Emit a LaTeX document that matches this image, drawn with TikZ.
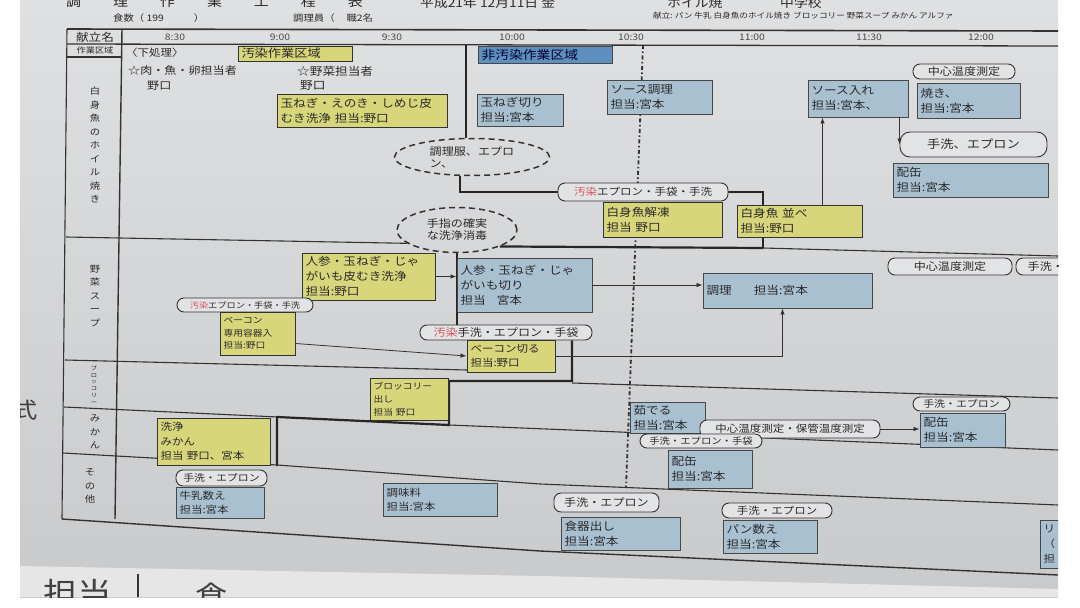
\documentclass[tikz,border=0pt]{standalone}
\usepackage{fontspec}
\setmainfont{Noto Sans CJK JP}[FakeStretch=1.15]
\usetikzlibrary{shapes.geometric,arrows.meta,calc}
\definecolor{paperA}{HTML}{DFE0E2}
\definecolor{paperB}{HTML}{C9CACC}
\definecolor{paperL}{HTML}{E6E6E6}
\definecolor{pillfill}{HTML}{E2E3E5}
\definecolor{yfill}{HTML}{D7D67A}
\definecolor{bfill}{HTML}{A9C0D1}
\definecolor{bdark}{HTML}{5E90BF}
\definecolor{ink}{HTML}{2A2A2A}
\definecolor{lineink}{HTML}{333333}
\definecolor{redink}{HTML}{D9545E}
\pgfdeclarelayer{paper}
\pgfdeclarelayer{bg}
\pgfsetlayers{paper,bg,main}
\newcommand\MyBox[7]{%
  \pgfmathsetmacro\bxw{#5-#3}%
  \pgfmathsetmacro\bxh{#6-#4}%
  \pgfmathsetmacro\bxt{#5-#3-7}%
  \node[#2,minimum width=\bxw pt,minimum height=\bxh pt,text width=\bxt pt] (#1) at ({(#3+#5)/2},{(#4+#6)/2}) {#7};}
\newcommand\MyPill[7]{%
  \pgfmathsetmacro\bxw{#5-#3}%
  \pgfmathsetmacro\bxh{#6-#4}%
  \node[#2,minimum width=\bxw pt,minimum height=\bxh pt] (#1) at ({(#3+#5)/2},{(#4+#6)/2}) {#7};}
\tikzset{
  txt/.style={text=ink,inner sep=0pt,font=\fontsize{11}{14}\selectfont},
  ybox/.style={draw=lineink,line width=0.9pt,fill=yfill,text=ink,align=left,inner xsep=3.5pt,inner ysep=0.5pt,font=\fontsize{11}{15}\selectfont},
  bbox/.style={draw=lineink!90,line width=0.9pt,fill=bfill,text=ink,align=left,inner xsep=3.5pt,inner ysep=0.5pt,font=\fontsize{11}{15}\selectfont},
  pill/.style={draw=lineink,line width=0.9pt,fill=pillfill,rounded corners=7pt,text=ink,inner xsep=2pt,inner ysep=0pt,font=\fontsize{10}{11}\selectfont},
  dell/.style={ellipse,draw=lineink,dash pattern=on 6pt off 4pt,line width=1.5pt,inner sep=0pt,align=left,text=ink,font=\fontsize{10.5}{12}\selectfont},
  vlab/.style={text=ink,align=center,inner sep=0pt,font=\fontsize{9}{13.5}\selectfont},
  tlab/.style={text=ink!85,inner sep=0pt,font=\fontsize{9}{10}\selectfont},
  grid/.style={draw=lineink,line width=1.1pt},
  bound/.style={draw=black!85,line width=2.2pt},
  arr/.style={draw=lineink,line width=0.8pt,-{Latex[length=6pt,width=4.5pt]}},
  ddash/.style={draw=black!80,line width=1.8pt,dash pattern=on 4pt off 2.5pt on 1.5pt off 2.5pt},
}
\begin{document}
\begin{tikzpicture}[x=1pt,y=-1pt]
\useasboundingbox (0,0) rectangle (1080,608);
\begin{pgfonlayer}{paper}
  \fill[white] (0,0) rectangle (1080,608);
  \shade[top color=paperA,bottom color=paperB] (20,0) rectangle (1058,597);
  \fill[paperL] (20,566) -- (540,576) -- (1058,589) -- (1058,597) -- (20,597) -- cycle;
\end{pgfonlayer}
\begin{scope}
\clip (20,0) rectangle (1058,597);
% ---------- heading rows ----------
\node[txt,font=\fontsize{13}{13}\selectfont,anchor=west] (title) at (66,2) {調\hspace{32pt}理\hspace{32pt}作\hspace{32pt}業\hspace{32pt}工\hspace{32pt}程\hspace{32pt}表};
\node[txt,font=\fontsize{12}{12}\selectfont,anchor=west] (date) at (420,3) {平成21年\ 12月11日\ 金};
\node[txt,font=\fontsize{12}{12}\selectfont,anchor=west] (menu) at (667,3) {ホイル焼};
\node[txt,font=\fontsize{12}{12}\selectfont,anchor=west] (school) at (780,3) {中学校};
\node[txt,font=\fontsize{9}{10}\selectfont,anchor=west] (shoku) at (113,18) {食数（\ 199\hspace{30pt}）};
\node[txt,font=\fontsize{9}{10}\selectfont,anchor=west] (chori) at (293,18) {調理員（\hspace{12pt}職2名};
\node[txt,font=\fontsize{7.5}{9}\selectfont,anchor=west] (kondate) at (653,16) {献立:\ パン\ 牛乳\ 白身魚のホイル焼き\ ブロッコリー\ 野菜スープ\ みかん\ アルファ};
% ---------- table header ----------
\node[txt,font=\fontsize{11}{12}\selectfont] (hdr) at (95,37) {献立名};
\node[tlab] (t830) at (175,37) {8:30};
\node[tlab] (t900) at (280,37) {9:00};
\node[tlab] (t930) at (392,37) {9:30};
\node[tlab] (t1000) at (512,37) {10:00};
\node[tlab] (t1030) at (631,37) {10:30};
\node[tlab] (t1100) at (752,37) {11:00};
\node[tlab] (t1130) at (869,37) {11:30};
\node[tlab] (t1200) at (981,37) {12:00};
\node[txt,font=\fontsize{8}{9}\selectfont] (area) at (95,50.5) {作業区域};
% ---------- row labels ----------
\node[vlab] (lab1) at (95,145) {白\\身\\魚\\の\\ホ\\イ\\ル\\焼\\き};
\node[vlab] (lab2) at (95,296) {野\\菜\\ス\\ー\\プ};
\node[vlab,font=\fontsize{5.5}{6.8}\selectfont] (lab3) at (94,385) {ブ\\ロ\\ッ\\コ\\リ\\ー};
\node[vlab] (lab4) at (95,432) {み\\か\\ん};
\node[vlab] (lab5) at (90,486) {そ\\の\\他};
% ---------- free texts ----------
\node[txt,anchor=west,font=\fontsize{10}{12}\selectfont] (shita) at (126,53) {〈下処理〉};
\node[txt,anchor=west,font=\fontsize{10.5}{12}\selectfont] (meat) at (128,71) {☆肉・魚・卵担当者};
\node[txt,anchor=west,font=\fontsize{10.5}{12}\selectfont] (meatN) at (147,86) {野口};
\node[txt,anchor=west,font=\fontsize{11}{12}\selectfont] (veg) at (297,71) {☆野菜担当者};
\node[txt,anchor=west,font=\fontsize{11}{12}\selectfont] (vegN) at (300,86) {野口};
% ---------- zone labels ----------
\MyBox{zoneY}{ybox,font=\fontsize{11.5}{12}\selectfont,inner ysep=0pt}{238}{46}{352}{61}{汚染作業区域}
\MyBox{zoneB}{bbox,fill=bdark,text=black!80!blue,font=\fontsize{12}{12}\selectfont,inner ysep=0pt}{478}{46}{612}{63}{非汚染作業区域}
% ---------- dashed ellipses ----------
\node[dell,minimum width=155pt,minimum height=37pt] (el1) at (472,157) {調理服、エプロ\\ン、};
\node[dell,minimum width=120pt,minimum height=45pt] (el2) at (457,230) {手指の確実\\な洗浄消毒};
% ---------- boxes row 1 ----------
\MyBox{tama1}{ybox}{277}{94}{447}{127}{玉ねぎ・えのき・しめじ皮\\むき洗浄\ 担当:野口}
\MyBox{tama2}{bbox}{477}{94}{563}{126}{玉ねぎ切り\\担当:宮本}
\MyBox{sauce}{bbox}{607}{80}{712}{114}{ソース調理\\担当:宮本}
\MyBox{sauceIn}{bbox}{808}{80}{908}{117}{ソース入れ\\担当:宮本、}
\MyPill{tempA}{pill,font=\fontsize{10.5}{11}\selectfont}{913}{64}{1015}{79}{中心温度測定}
\MyBox{yaki}{bbox}{917}{83}{1020}{118}{焼き、\\担当:宮本}
\MyPill{hand1}{pill,font=\fontsize{11.5}{12}\selectfont,rounded corners=10pt}{900}{132}{1047}{157}{手洗、エプロン}
\MyBox{haikan1}{bbox}{893}{163}{1048}{197}{配缶\\担当:宮本}
\MyPill{pill1}{pill}{558}{183}{728}{201}{{\color{redink}汚染}エプロン・手袋・手洗}
\MyBox{kaito}{ybox}{603}{202}{722}{237}{白身魚解凍\\担当\ 野口}
\MyBox{narabe}{ybox}{737}{205}{862}{237}{白身魚\ 並べ\\担当:野口}
% ---------- boxes row 2 ----------
\MyBox{ninj1}{ybox}{302}{253}{435}{300}{人参・玉ねぎ・じゃ\\がいも皮むき洗浄\\担当:野口}
\MyBox{cut}{bbox}{457}{258}{592}{312}{人参・玉ねぎ・じゃ\\がいも切り\\担当\ \ \ 宮本}
\MyBox{cook}{bbox}{703}{273}{872}{308}{調理\hspace{22pt}担当:宮本}
\MyPill{tempB}{pill,font=\fontsize{10.5}{11}\selectfont}{888}{258}{1012}{275}{中心温度測定}
\MyPill{handR}{pill,font=\fontsize{10.5}{11}\selectfont}{1016}{258}{1124}{275}{手洗・エプロン}
\MyPill{pill2}{pill,font=\fontsize{8}{9}\selectfont}{177}{298}{313}{312}{{\color{redink}汚染}エプロン・手袋・手洗}
\MyBox{bacon}{ybox,font=\fontsize{8.5}{12.5}\selectfont}{220}{312}{295}{355}{ベーコン\\専用容器入\\担当:野口}
\MyPill{pill3}{pill,font=\fontsize{10.5}{11}\selectfont}{420}{325}{592}{340}{{\color{redink}汚染}手洗・エプロン・手袋}
\MyBox{bacut}{ybox,font=\fontsize{10}{14}\selectfont}{467}{340}{555}{372}{ベーコン切る\\担当:野口}
% ---------- boxes rows 3-5 ----------
\MyBox{broc}{ybox,font=\fontsize{8.5}{13}\selectfont}{370}{378}{448}{420}{ブロッコリー\\出し\\担当\ 野口}
\MyBox{mikan}{ybox,font=\fontsize{10}{14.5}\selectfont}{157}{418}{270}{465}{洗浄\\みかん\\担当\ 野口、宮本}
\MyBox{yuderu}{bbox}{630}{402}{705}{433}{茹でる\\担当:宮本}
\MyPill{tempC}{pill,font=\fontsize{10}{11}\selectfont}{700}{420}{880}{438}{中心温度測定・保管温度測定}
\MyPill{hand2}{pill,font=\fontsize{9.5}{10}\selectfont}{913}{397}{1010}{411}{手洗・エプロン}
\MyBox{haikan2}{bbox}{920}{413}{1005}{447}{配缶\\担当:宮本}
\MyPill{hand3}{pill,font=\fontsize{9}{10}\selectfont}{640}{434}{762}{448}{手洗・エプロン・手袋}
\MyBox{haikan3}{bbox}{668}{450}{752}{488}{配缶\\担当:宮本}
\MyPill{hand4}{pill,font=\fontsize{9.5}{10}\selectfont}{176}{470}{267}{486}{手洗・エプロン}
\MyBox{milk}{bbox,font=\fontsize{10}{14}\selectfont}{176}{487}{264}{518}{牛乳数え\\担当:宮本}
\MyBox{chomi}{bbox,font=\fontsize{10}{14}\selectfont}{383}{483}{497}{516}{調味料\\担当:宮本}
\MyPill{hand5}{pill,font=\fontsize{10.5}{11}\selectfont}{554}{493}{659}{512}{手洗・エプロン}
\MyBox{shokki}{bbox}{561}{517}{680}{550}{食器出し\\担当:宮本}
\MyPill{hand6}{pill,font=\fontsize{10}{11}\selectfont}{722}{503}{832}{518}{手洗・エプロン}
\MyBox{pan}{bbox}{723}{520}{817}{553}{パン数え\\担当:宮本}
\MyBox{partial}{bbox,font=\fontsize{10}{15}\selectfont}{1040}{520}{1100}{568}{リ\\（\\担}
% ---------- stray texts of the photo ----------
\node[txt,font=\fontsize{30}{30}\selectfont,text=black!75] (tanto) at (78,593) {担当};
\node[txt,font=\fontsize{28}{28}\selectfont,text=black!75] (shokuB) at (212,596) {食};
\node[txt,font=\fontsize{22}{22}\selectfont,text=black!75] (shiki) at (25,410) {式};
% ---------- connectors ----------
\draw[arr] ([xshift=23pt]narabe.north) -- ([xshift=23pt]narabe.north |- sauceIn.south);
\draw[arr] (sauceIn.south -| hand1.west) -- (hand1.west);
\draw[arr] (ninj1.east) -- (ninj1.east -| cut.west);
\draw[arr] (cut.east) -- (cut.east -| cook.west);
\draw[arr] ([yshift=-10pt]bacon.east) -- (bacut.west);
\draw[arr] (bacut.east) -| ([xshift=-5pt]cook.south);
\draw[arr] (tempC.east) -- (tempC.east -| haikan2.west);
% ---------- grid and boundary lines (under the boxes) ----------
\begin{pgfonlayer}{bg}
  \clip (20,0) rectangle (1058,597);
  \draw[grid,line width=1.6pt] (67,29) -- (1058,31);
  \draw[grid,line width=1.3pt] (67,44) -- (1058,46);
  \draw[grid] (67,29) -- (62,519);
  \draw[grid,line width=1.4pt] (122,29) -- (115,519);
  \draw[grid] (67,57) -- (122,57);
  \draw[grid] (66,237) -- (el2.195);
  \coordinate (bnd1) at (763,248);
  \draw[grid] (bnd1) -- (1058,256);
  \draw[grid] (65,360) -- (467,370);
  \draw[grid] (572,383) -- (1058,398);
  \draw[grid] (64,407) -- (449,425) -- (1058,450);
  \draw[grid] (63,453) -- (277,465) -- (540,484) -- (1058,505);
  \draw[grid,line width=1.4pt] (62,519) -- (540,551) -- (1058,575);
  \draw[grid,line width=1.4pt] (138,574) -- (138,597);
  % boundary between contaminated and clean areas
  \coordinate (bt) at (466,45);
  \draw[bound] (bt) -- (bt |- el1.north);
  \draw[bound] (el1.237) |- (pill1.west);
  \draw[bound] (pill1.east) -| (bnd1);
  \draw[bound] (el2.-21) -- (bnd1);
  \draw[bound] (el2.south) -- (el2.south |- pill3.north);
  \coordinate (bnd2) at (572,381);
  \coordinate (bnd3) at (449,381);
  \coordinate (bnd4) at (449,425);
  \coordinate (bnd5) at (277,417);
  \coordinate (bnd6) at (277,466);
  \draw[bound] (bnd2 |- pill3.south) -- (bnd2) -- (bnd3) -- (bnd4) -- (bnd5) -- (bnd6);
  % 10:30 dash-dot marker
  \coordinate (dd1) at (643,45);
  \coordinate (dd2) at (626,487);
  \draw[ddash] (dd1) -- (dd2);
\end{pgfonlayer}
\end{scope}
\end{tikzpicture}
\end{document}
